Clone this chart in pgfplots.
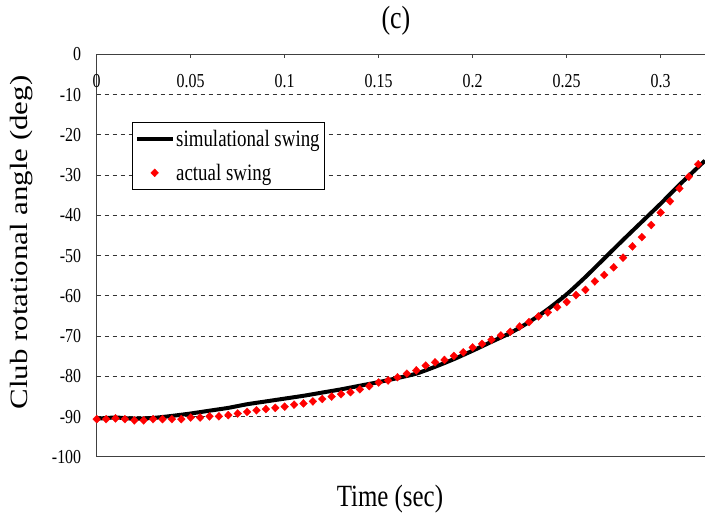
\documentclass[border=0pt]{standalone}
\usepackage{pgfplots}
\pgfplotsset{compat=1.18}
\usepackage{fontspec}
\setmainfont{Liberation Serif}
\usepackage{graphicx}

\pgfplotstableread{
t ang
0 -90.5
0.01 -90.2
0.02 -90.5
0.03 -90.3
0.04 -89.8
0.05 -89.2
0.06 -88.5
0.07 -87.8
0.08 -86.9
0.09 -86.2
0.10 -85.5
0.11 -84.8
0.12 -84.0
0.13 -83.2
0.14 -82.3
0.15 -81.4
0.16 -80.4
0.17 -79.3
0.18 -77.6
0.19 -75.7
0.20 -73.6
0.21 -71.4
0.22 -69.2
0.23 -66.5
0.24 -63.3
0.25 -59.6
0.26 -55.3
0.27 -50.7
0.28 -46.1
0.29 -41.6
0.30 -37.1
0.31 -32.4
0.3236 -26.4
}\simtable

\pgfplotstableread{
t ang
0 -90.6
0.005 -90.6
0.01 -90.4
0.015 -90.6
0.02 -90.9
0.025 -90.9
0.03 -90.6
0.035 -90.6
0.04 -90.6
0.045 -90.6
0.05 -90.2
0.055 -90.2
0.06 -89.9
0.065 -89.9
0.07 -89.6
0.075 -89.2
0.08 -88.8
0.085 -88.4
0.09 -88.1
0.095 -87.8
0.1 -87.5
0.105 -87.0
0.11 -86.7
0.115 -86.2
0.12 -85.6
0.125 -85.0
0.13 -84.4
0.135 -83.9
0.14 -83.2
0.145 -82.4
0.15 -81.5
0.155 -81.0
0.16 -80.2
0.165 -79.3
0.17 -78.5
0.175 -77.3
0.18 -76.5
0.185 -75.9
0.19 -74.9
0.195 -74.0
0.2 -72.8
0.205 -71.9
0.21 -70.9
0.215 -69.8
0.22 -68.9
0.225 -67.6
0.23 -66.5
0.235 -65.1
0.24 -64.1
0.245 -62.8
0.25 -61.5
0.255 -59.8
0.26 -58.5
0.265 -56.4
0.27 -54.8
0.275 -52.9
0.28 -50.5
0.285 -47.7
0.29 -45.4
0.295 -42.4
0.3 -39.3
0.305 -36.5
0.31 -33.3
0.315 -30.4
0.32 -27.3
0.325 -24.9
}\acttable

\begin{document}
\begin{tikzpicture}[x=1bp,y=1bp]
\useasboundingbox (0,0) rectangle (705,519);
\begin{axis}[
  at={(96.7bp,62bp)}, anchor=south west,
  scale only axis, width=608.3bp, height=402.7bp,
  xmin=0, xmax=0.3236, ymin=-100, ymax=0,
  axis x line=top, axis y line=left,
  axis line style={-, draw=black!75, line width=1.2bp},
  xtick={0,0.05,0.1,0.15,0.2,0.25,0.3},
  xticklabels={0,0.05,0.1,0.15,0.2,0.25,0.3},
  ytick={-100,-90,-80,-70,-60,-50,-40,-30,-20,-10,0},
  yticklabels={-100,-90,-80,-70,-60,-50,-40,-30,-20,-10,0},
  xtick align=inside,
  major tick length=4bp,
  xtick style={draw=black!75, line width=1.2bp},
  ytick style={draw=none},
  xticklabel style={font=\fontsize{16}{16}\selectfont, yscale=1.24, anchor=north, yshift=-13bp},
  yticklabel style={font=\fontsize{16}{16}\selectfont, yscale=1.24, anchor=east, xshift=-10bp},
  ymajorgrids,
  major grid style={draw=black!80, line width=1bp, dash pattern=on 4bp off 4bp},
  title={\scalebox{1}[1.24]{(c)}},
  title style={at={(axis description cs:0.492,1.068)}, anchor=center, font=\fontsize{26}{26}\selectfont},
  xlabel={\scalebox{1}[1.24]{Time (sec)}},
  xlabel style={at={(axis description cs:0.482,-0.104)}, anchor=center, font=\fontsize{25}{25}\selectfont},
  ylabel={\scalebox{1.24}[1]{Club rotational angle (deg)}},
  ylabel style={at={(axis description cs:-0.1228,0.5327)}, anchor=center, font=\fontsize{25}{25}\selectfont},
  legend style={at={(axis description cs:0.0575,0.8326)}, anchor=north west, draw=black, line width=1bp, fill=white,
    font=\fontsize{19}{19}\selectfont, inner xsep=3bp, inner ysep=6bp, row sep=12bp},
  legend cell align=left,
  legend image code/.code={\draw[mark repeat=2,mark phase=2,#1] plot coordinates {(0bp,0bp) (17.5bp,0bp) (35bp,0bp)};},
]
\addplot[black, line width=4bp, no marks, smooth, tension=0.4] table[x=t, y=ang] {\simtable};
\addlegendentry{\scalebox{1}[1.24]{simulational swing}}
\addplot[only marks, mark=diamond*, mark size=4bp, mark options={draw=red, fill=red, xscale=1.3, line width=0.3bp}] table[x=t, y=ang] {\acttable};
\addlegendentry{\scalebox{1}[1.24]{actual swing}}
\draw[black!75, line width=1.2bp] (rel axis cs:0,0) -- (rel axis cs:1,0);
\end{axis}
\end{tikzpicture}
\end{document}
